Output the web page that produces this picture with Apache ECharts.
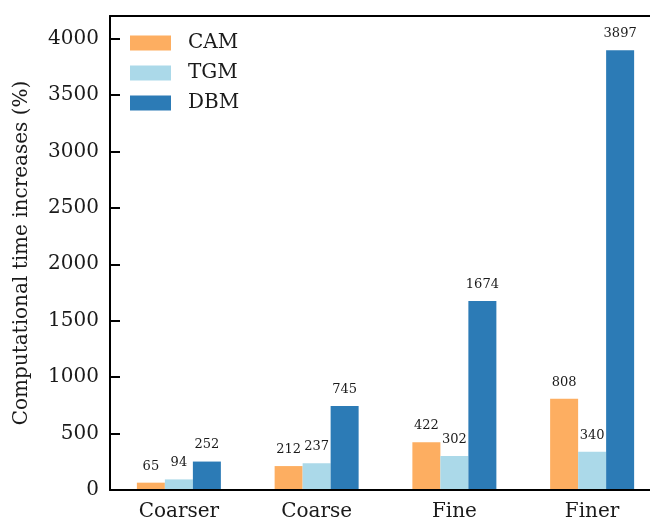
<!DOCTYPE html>
<html>
<head>
<meta charset="utf-8">
<script src="https://cdn.jsdelivr.net/npm/echarts@6/dist/echarts.min.js"></script>
<style>
  html, body { margin: 0; padding: 0; background: #fff; overflow: hidden; }
  #main { width: 650px; height: 519px; }
</style>
</head>
<body>
<div id="main"></div>
<script>
// grid sizes
var categories = ['Coarser', 'Coarse', 'Fine', 'Finer'];
var camData = [65, 212, 422, 808];
var tgmData = [94, 237, 302, 340];
var dbmData = [252, 745, 1674, 3897];
var yTicks = [0, 500, 1000, 1500, 2000, 2500, 3000, 3500, 4000];

var FONT = 'DejaVu Serif';

function barSeries(name, data, color) {
    return {
        name: name,
        type: 'bar',
        data: data,
        barWidth: 28,
        barGap: '0%',
        itemStyle: { color: color },
        label: {
            show: true,
            position: 'top',
            distance: 10,
            color: '#1a1a1a',
            fontFamily: FONT,
            fontSize: 13
        }
    };
}

var myChart = echarts.init(document.getElementById('main'));
myChart.setOption({
    animation: false,
    backgroundColor: '#fff',
    grid: {
        left: 110, top: 16, bottom: 29, width: 551,
        containLabel: false, outerBoundsMode: 'none'
    },
    legend: {
        orient: 'vertical',
        left: 125, top: 28,
        itemWidth: 41, itemHeight: 15, itemGap: 10,
        icon: 'rect',
        textStyle: { fontFamily: FONT, fontSize: 20, color: '#1a1a1a', padding: [0, 0, 0, 12] },
        data: ['CAM', 'TGM', 'DBM']
    },
    xAxis: [{
        type: 'category',
        data: categories,
        z: 10,
        splitLine: { show: false },
        axisLine: { lineStyle: { color: '#000', width: 2 } },
        axisTick: { inside: true, length: 10, alignWithLabel: true, lineStyle: { color: '#000', width: 2 } },
        axisLabel: { fontFamily: FONT, fontSize: 20, color: '#1a1a1a', margin: 12 }
    }, {
        // top spine only
        type: 'category',
        position: 'top',
        data: categories,
        splitLine: { show: false },
        axisLine: { lineStyle: { color: '#000', width: 2 } },
        axisTick: { show: false },
        axisLabel: { show: false }
    }],
    yAxis: {
        type: 'value',
        min: 0, max: 4200, interval: 500,
        name: 'Computational time increases (%)',
        nameLocation: 'middle',
        nameGap: 78,
        nameTextStyle: { fontFamily: FONT, fontSize: 20, color: '#1a1a1a' },
        splitLine: { show: false },
        axisLine: { show: true, lineStyle: { color: '#000', width: 2 } },
        axisTick: { show: true, inside: true, length: 10, lineStyle: { color: '#000', width: 2 } },
        axisLabel: {
            fontFamily: FONT, fontSize: 20, color: '#1a1a1a', margin: 11,
            formatter: function (v) { return yTicks.indexOf(v) >= 0 ? String(v) : ''; }
        }
    },
    series: [
        barSeries('CAM', camData, '#fdae61'),
        barSeries('TGM', tgmData, '#abd9e9'),
        barSeries('DBM', dbmData, '#2c7bb6')
    ]
});
</script>
</body>
</html>
